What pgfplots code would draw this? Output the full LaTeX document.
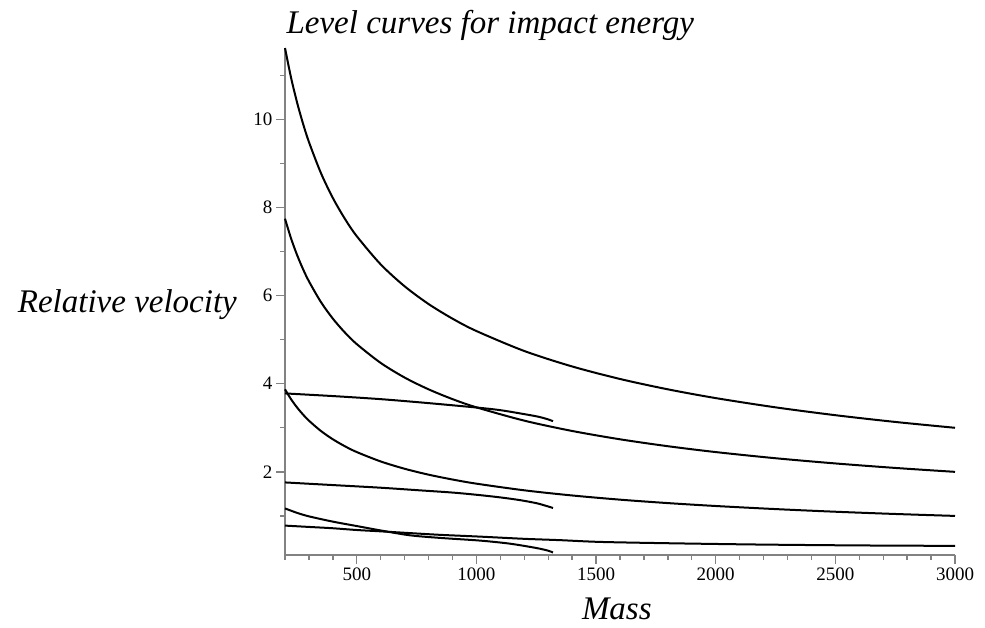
\documentclass[border=0pt]{standalone}
\usepackage{fontspec}
\setmainfont{Liberation Serif}
\usepackage{pgfplots}
\pgfplotsset{compat=1.18}
\definecolor{axgray}{RGB}{130,130,130}
\pgfplotsset{curve/.style={black, line width=2pt, smooth, mark=none}}
\begin{document}
\begin{tikzpicture}
\useasboundingbox (0,0) rectangle (985pt,628pt);
\begin{axis}[
  at={(285pt,73pt)}, anchor=south west,
  scale only axis, width=670pt, height=507pt,
  xmin=200, xmax=3000, ymin=0.113, ymax=11.62,
  axis x line*=bottom, axis y line*=left,
  axis line style={axgray, line width=1.6pt},
  every tick/.style={axgray, line width=1.3pt},
  every minor tick/.style={axgray, line width=1.3pt},
  tick align=outside,
  major tick length=9pt, minor tick length=5pt,
  xtick={500,1000,...,3000}, minor xtick={200,300,...,3000},
  ytick={2,4,...,10}, minor ytick={1,3,...,11},
  /pgf/number format/assume math mode=true,
  /pgf/number format/1000 sep={},
  ticklabel style={font=\fontsize{19}{22}\selectfont, black},
  clip=false,
]
% E level 1
\addplot[curve] coordinates {(200,11.619) (225,10.954) (250,10.392) (275,9.909) (300,9.487) (350,8.783) (400,8.216) (450,7.746) (500,7.348) (600,6.708) (700,6.211) (800,5.809) (900,5.477) (1000,5.196) (1200,4.743) (1400,4.392) (1600,4.108) (1800,3.873) (2000,3.674) (2250,3.464) (2500,3.286) (2750,3.133) (3000,3.000)};
% E level 2
\addplot[curve] coordinates {(200,7.746) (225,7.303) (250,6.928) (275,6.606) (300,6.325) (350,5.855) (400,5.477) (450,5.164) (500,4.899) (600,4.472) (700,4.140) (800,3.873) (900,3.651) (1000,3.464) (1200,3.162) (1400,2.928) (1600,2.739) (1800,2.582) (2000,2.449) (2250,2.309) (2500,2.191) (2750,2.089) (3000,2.000)};
% E level 3
\addplot[curve] coordinates {(200,3.873) (225,3.651) (250,3.464) (275,3.303) (300,3.162) (350,2.928) (400,2.739) (450,2.582) (500,2.449) (600,2.236) (700,2.070) (800,1.936) (900,1.826) (1000,1.732) (1200,1.581) (1400,1.464) (1600,1.369) (1800,1.291) (2000,1.225) (2250,1.155) (2500,1.095) (2750,1.044) (3000,1.000)};
% long low curve
\addplot[curve] coordinates {(200,0.78) (300,0.75) (400,0.72) (500,0.68) (600,0.65) (722,0.61) (850,0.57) (1015,0.53) (1200,0.48) (1349,0.45) (1516,0.41) (1800,0.38) (2185,0.35) (2600,0.33) (3000,0.32)};
% short curves
\addplot[curve] coordinates {(200,3.78) (400,3.72) (600,3.65) (800,3.56) (1000,3.46) (1100,3.40) (1200,3.31) (1260,3.25) (1300,3.19) (1320,3.15)};
\addplot[curve] coordinates {(200,1.76) (400,1.70) (600,1.64) (764,1.58) (900,1.53) (1000,1.48) (1100,1.42) (1180,1.36) (1250,1.29) (1290,1.23) (1320,1.18)};
\addplot[curve] coordinates {(200,1.17) (250,1.07) (300,0.99) (400,0.87) (500,0.77) (600,0.67) (722,0.56) (850,0.50) (1015,0.44) (1140,0.37) (1252,0.27) (1300,0.21) (1320,0.17)};
\node[anchor=base west, inner sep=0pt, font=\fontsize{33}{38}\selectfont\itshape] at (axis description cs:0.002,1.0276) {Level curves for impact energy};
\node[anchor=base east, inner sep=0pt, font=\fontsize{33}{38}\selectfont\itshape] at (axis description cs:-0.0716,0.479) {Relative velocity};
\node[anchor=base west, inner sep=0pt, font=\fontsize{33}{38}\selectfont\itshape] at (axis description cs:0.443,-0.128) {Mass};
\end{axis}
\end{tikzpicture}
\end{document}
